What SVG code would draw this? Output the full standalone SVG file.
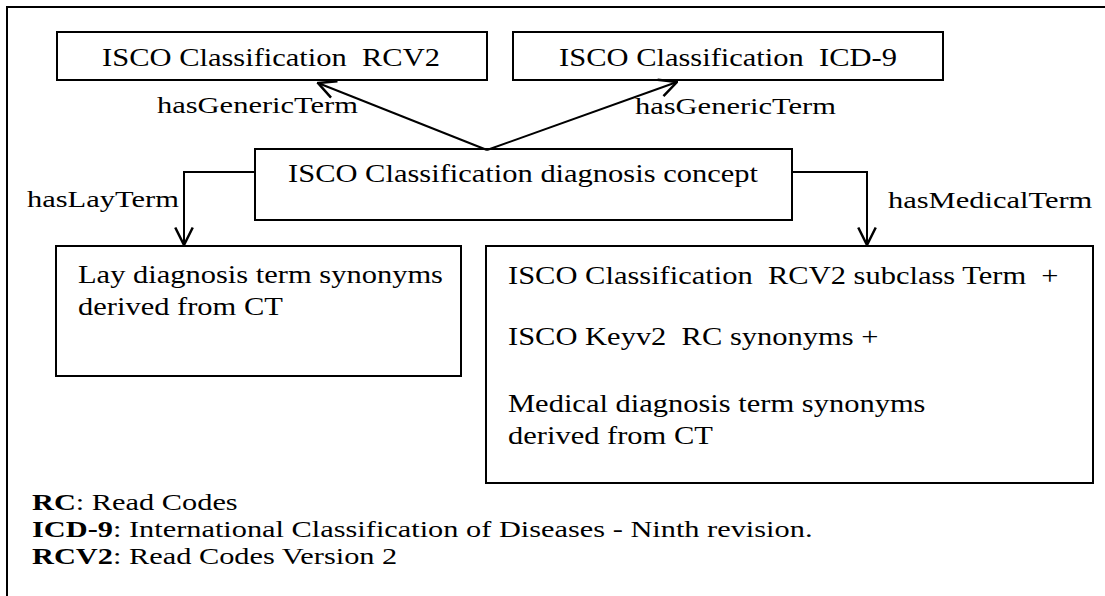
<svg xmlns="http://www.w3.org/2000/svg" width="1105" height="596" viewBox="0 0 1105 596">
<style>
.box{fill:none;stroke:#000;stroke-width:2}
.ln{fill:none;stroke:#000;stroke-width:2}
text{font-family:"Liberation Serif","Times New Roman",serif;font-size:25px;fill:#000}
.lbl{font-size:24px}
.leg{font-size:23px}
.b{font-weight:bold}
</style>
<defs>
<marker id="ah" markerUnits="userSpaceOnUse" markerWidth="20" markerHeight="20" refX="15" refY="8" orient="auto" viewBox="0 0 16 16">
<path d="M1,1 L15,8 L1,15" fill="none" stroke="#000" stroke-width="2"/>
</marker>
</defs>
<rect width="1105" height="596" fill="#fff"/>
<path class="ln" d="M7,596 V7 H1105"/>
<g id="n-rcv2">
<rect class="box" x="57" y="32" width="430" height="48"/>
<text transform="translate(271,66) scale(1.22,1)" text-anchor="middle" xml:space="preserve">ISCO Classification  RCV2</text>
</g>
<g id="n-icd9">
<rect class="box" x="513" y="32" width="430" height="48"/>
<text transform="translate(728,66) scale(1.22,1)" text-anchor="middle" xml:space="preserve">ISCO Classification  ICD-9</text>
</g>
<g id="n-concept">
<rect class="box" x="255" y="149" width="537" height="71"/>
<text transform="translate(523,182) scale(1.22,1)" text-anchor="middle">ISCO Classification diagnosis concept</text>
</g>
<g id="n-lay">
<rect class="box" x="56" y="246" width="405" height="130"/>
<text transform="translate(78,283) scale(1.22,1)">Lay diagnosis term synonyms</text>
<text transform="translate(78,315) scale(1.22,1)">derived from CT</text>
</g>
<g id="n-medical">
<rect class="box" x="486" y="246" width="607" height="237"/>
<text transform="translate(508,284) scale(1.22,1)" xml:space="preserve">ISCO Classification  RCV2 subclass Term  +</text>
<text transform="translate(508,345) scale(1.22,1)" xml:space="preserve">ISCO Keyv2  RC synonyms +</text>
<text transform="translate(508,412) scale(1.22,1)">Medical diagnosis term synonyms</text>
<text transform="translate(508,444) scale(1.22,1)">derived from CT</text>
</g>
<g id="connectors">
<line class="ln" x1="487" y1="150" x2="318" y2="83" marker-end="url(#ah)"/>
<line class="ln" x1="487" y1="150" x2="677" y2="82" marker-end="url(#ah)"/>
<polyline class="ln" points="255,172 184,172 184,245" marker-end="url(#ah)"/>
<polyline class="ln" points="792,172 867,172 867,245" marker-end="url(#ah)"/>
<text class="lbl" transform="translate(157,113) scale(1.27,1)">hasGenericTerm</text>
<text class="lbl" transform="translate(635,114) scale(1.27,1)">hasGenericTerm</text>
<text class="lbl" transform="translate(27,207) scale(1.27,1)">hasLayTerm</text>
<text class="lbl" transform="translate(888,208) scale(1.27,1)">hasMedicalTerm</text>
</g>
<g id="legend">
<text class="leg" transform="translate(32,510) scale(1.32,1)"><tspan class="b">RC</tspan>: Read Codes</text>
<text class="leg" transform="translate(32,537) scale(1.32,1)"><tspan class="b">ICD-9</tspan>: International Classification of Diseases - Ninth revision.</text>
<text class="leg" transform="translate(32,564) scale(1.32,1)"><tspan class="b">RCV2</tspan>: Read Codes Version 2</text>
</g>
</svg>
